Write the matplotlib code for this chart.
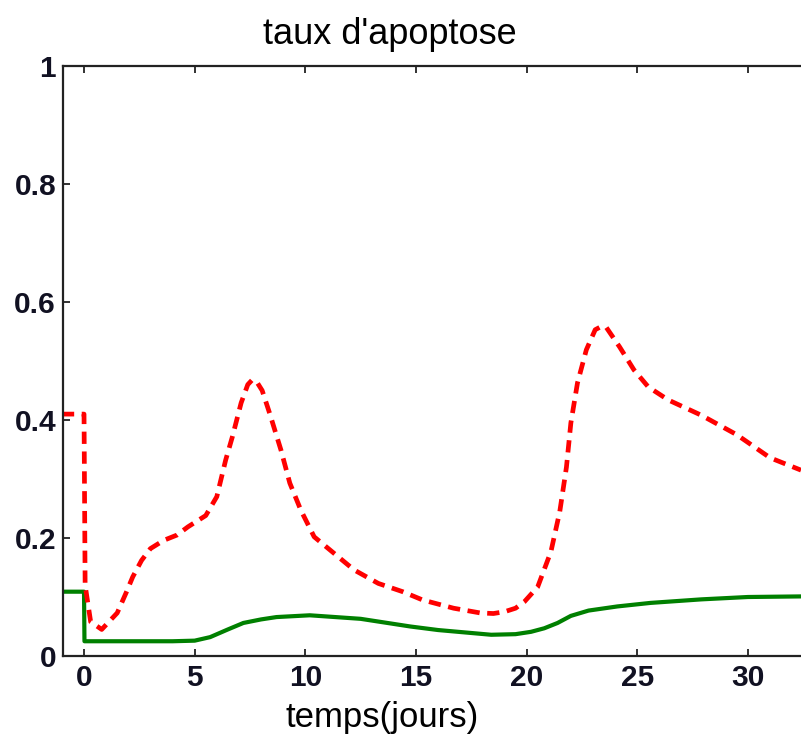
import numpy as np
import matplotlib
matplotlib.use("Agg")
import matplotlib.pyplot as plt

# taux d'apoptose
t_red = [-1, 0, 0.05, 0.3, 0.8, 1.5, 1.9, 2.2, 2.6, 3.0, 3.6, 4.2, 4.7, 5.5, 6.0,
         6.4, 6.7, 7.1, 7.4, 7.6, 7.8, 8.05, 8.4, 8.9, 9.3, 9.8, 10.4, 11.3, 12.2,
         13.3, 14.4, 15.3, 16.7, 17.9, 18.5, 19.0, 19.5, 19.9, 20.5, 21.1, 21.5,
         21.8, 22.0, 22.3, 22.7, 23.1, 23.4, 23.6, 24.2, 24.85, 25.5, 26.4, 27.9,
         29.5, 31.0, 32.4]
y_red = [0.41, 0.41, 0.12, 0.058, 0.045, 0.073, 0.107, 0.134, 0.162, 0.182, 0.196,
         0.205, 0.219, 0.238, 0.27, 0.332, 0.371, 0.429, 0.46, 0.468, 0.465, 0.45,
         0.41, 0.349, 0.293, 0.247, 0.202, 0.174, 0.146, 0.123, 0.109, 0.095, 0.081,
         0.073, 0.072, 0.075, 0.081, 0.092, 0.117, 0.177, 0.245, 0.32, 0.395, 0.463,
         0.519, 0.553, 0.559, 0.557, 0.524, 0.485, 0.456, 0.434, 0.408, 0.375,
         0.336, 0.315]

t_green = [-1, 0, 0.02, 2, 4, 5, 5.7, 6.5, 7.2, 8.0, 8.7, 10.2, 12.5, 14.75, 16,
           18.4, 19.5, 20.2, 20.8, 21.4, 22.0, 22.8, 24.1, 25.6, 27.9, 30, 32.4]
y_green = [0.109, 0.109, 0.025, 0.025, 0.025, 0.026, 0.032, 0.045, 0.056, 0.062,
           0.066, 0.069, 0.063, 0.05, 0.044, 0.036, 0.037, 0.041, 0.047, 0.056,
           0.068, 0.077, 0.084, 0.09, 0.096, 0.1, 0.101]

xticks = [0, 5, 10, 15, 20, 25, 30]
yticks = [0, 0.2, 0.4, 0.6, 0.8, 1]
ytick_labels = ['0', '0.2', '0.4', '0.6', '0.8', '1']

text_font = ['Liberation Sans', 'DejaVu Sans']

fig = plt.figure(figsize=(8.01, 7.46), dpi=100)
ax = fig.add_axes([63 / 801, 1 - 656 / 746, 1 - 63 / 801, (656 - 66) / 746])

ax.plot(t_green, y_green, color='#008000', linewidth=3, solid_joinstyle='round')
ax.plot(t_red, y_red, color='#ff0000', linewidth=3.4, dashes=(2.6, 1.6))

ax.set_xlim(-0.95, 32.4)
ax.set_ylim(0, 1)
ax.set_xticks(xticks)
ax.set_yticks(yticks)
ax.set_yticklabels(ytick_labels)
for lab in ax.get_xticklabels() + ax.get_yticklabels():
    lab.set_fontfamily(text_font)
    lab.set_fontweight('bold')
    lab.set_fontsize(21.5)
    lab.set_color('#111122')

ax.tick_params(direction='in', length=5, width=1.3, top=True, color='#222222')
ax.tick_params(axis='x', pad=6)
ax.tick_params(axis='y', pad=5)
ax.spines['right'].set_visible(False)
for s in ['left', 'bottom', 'top']:
    ax.spines[s].set_linewidth(1.6)
    ax.spines[s].set_color('#222222')

ax.set_title("taux d'apoptose", fontsize=26, family=text_font, x=0.443, pad=16)
ax.set_xlabel('temps(jours)', fontsize=25, family=text_font, labelpad=6, x=0.432)

fig.savefig('out.png', dpi=100)
